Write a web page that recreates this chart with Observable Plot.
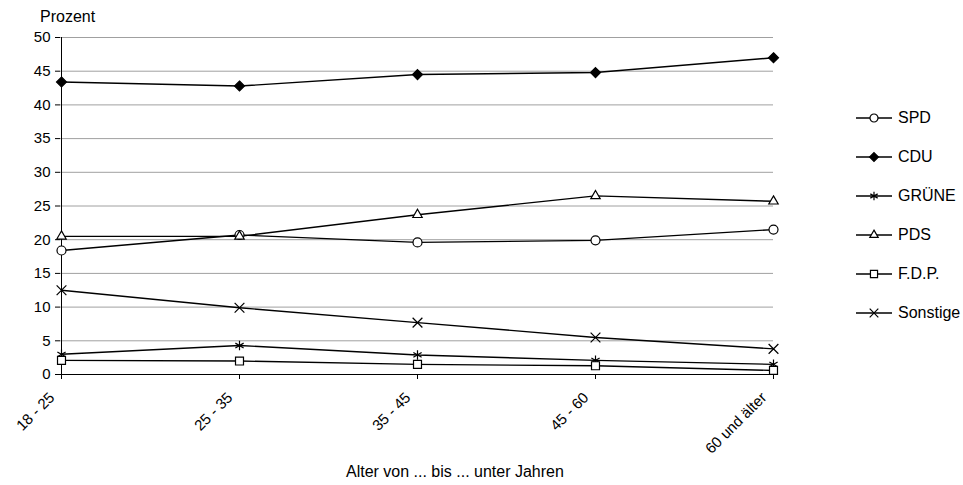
<!DOCTYPE html>
<html>
<head>
<meta charset="utf-8">
<script src="https://cdn.jsdelivr.net/npm/d3@7"></script>
<script src="https://cdn.jsdelivr.net/npm/@observablehq/plot@0.6"></script>
<style>
  body { margin: 0; background: #fff; font-family: "Liberation Sans", Arial, sans-serif; }
  #wrap { position: relative; width: 963px; height: 485px; overflow: hidden; }
  #ylab { position: absolute; left: 40px; top: 7px; font-size: 16px; line-height: 20px; }
  #xlab { position: absolute; left: 346px; top: 462px; font-size: 16px; line-height: 20px; white-space: nowrap; }
  #legend { position: absolute; left: 856px; top: 98px; font-size: 16px; }
  .item { display: flex; align-items: center; height: 39px; margin: 0; white-space: nowrap; }
  .item svg { display: block; margin-right: 5px; }
</style>
</head>
<body>
<div id="wrap">
  <div id="chart"></div>
  <div id="ylab">Prozent</div>
  <div id="xlab">Alter von ... bis ... unter Jahren</div>
  <div id="legend"></div>
</div>
<script>
const ages = ["18 - 25", "25 - 35", "35 - 45", "45 - 60", "60 und älter"];
const parties = ["SPD", "CDU", "GRÜNE", "PDS", "F.D.P.", "Sonstige"];
const spd      = [18.4, 20.7, 19.6, 19.9, 21.5];
const cdu      = [43.4, 42.8, 44.5, 44.8, 47.0];
const gruene   = [3.0, 4.3, 2.9, 2.1, 1.5];
const pds      = [20.5, 20.5, 23.7, 26.5, 25.7];
const fdp      = [2.1, 2.0, 1.5, 1.3, 0.6];
const sonstige = [12.5, 9.9, 7.7, 5.5, 3.8];
const yTicks = [0, 5, 10, 15, 20, 25, 30, 35, 40, 45, 50];

const seriesValues = [spd, cdu, gruene, pds, fdp, sonstige];
const symbols = ["circle", "diamond2", "asterisk", "triangle2", "square", "times"];
const fills = ["white", "black", "white", "white", "white", "white"];

const data = [];
parties.forEach((p, i) => seriesValues[i].forEach((v, j) => data.push({party: p, age: ages[j], value: v})));

const chart = Plot.plot({
  width: 963,
  height: 485,
  marginLeft: 60,
  marginRight: 190,
  marginTop: 37,
  marginBottom: 111,
  style: {fontFamily: "Liberation Sans, Arial, sans-serif", fontSize: "15px", color: "black", background: "white"},
  x: {type: "point", domain: ages, padding: 0, label: null},
  y: {domain: [0, 50], label: null},
  symbol: {domain: parties, range: symbols},
  marks: [
    Plot.gridY(yTicks, {stroke: "#a0a0a0", strokeOpacity: 1, strokeWidth: 1}),
    Plot.ruleY([0], {stroke: "black"}),
    Plot.ruleX([ages[0]], {stroke: "black", y1: 0, y2: 50}),
    Plot.line(data, {x: "age", y: "value", z: "party", stroke: "black", strokeWidth: 1.4}),
    Plot.dot(data, {x: "age", y: "value", symbol: "party", r: 4.5, stroke: "black", strokeWidth: 1.2,
      fill: d => fills[parties.indexOf(d.party)]}),
    Plot.axisY(yTicks, {tickSize: 5, tickPadding: 5, label: null, fontSize: 15}),
    Plot.axisX({tickSize: 5, tickFormat: () => "", label: null}),
    Plot.text(ages, {x: d => d, frameAnchor: "bottom", rotate: -45, textAnchor: "end",
      lineAnchor: "bottom", dx: -6, dy: 24, fontSize: 15})
  ]
});
document.getElementById("chart").appendChild(chart);

// legend
const legend = d3.select("#legend");
const symMap = {circle: d3.symbolCircle, diamond2: d3.symbolDiamond2, asterisk: d3.symbolAsterisk,
  triangle2: d3.symbolTriangle2, square: d3.symbolSquare, times: d3.symbolTimes};
parties.forEach((p, i) => {
  const row = legend.append("div").attr("class", "item");
  const svg = row.append("svg").attr("width", 37).attr("height", 14);
  svg.append("line").attr("x1", 0).attr("x2", 36).attr("y1", 7).attr("y2", 7)
    .attr("stroke", "black").attr("stroke-width", 1.3);
  svg.append("path").attr("transform", "translate(18,7)")
    .attr("d", d3.symbol(symMap[symbols[i]], Math.PI * 4 * 4)())
    .attr("fill", fills[i]).attr("stroke", "black").attr("stroke-width", 1.2);
  row.append("span").text(p);
});
</script>
</body>
</html>
